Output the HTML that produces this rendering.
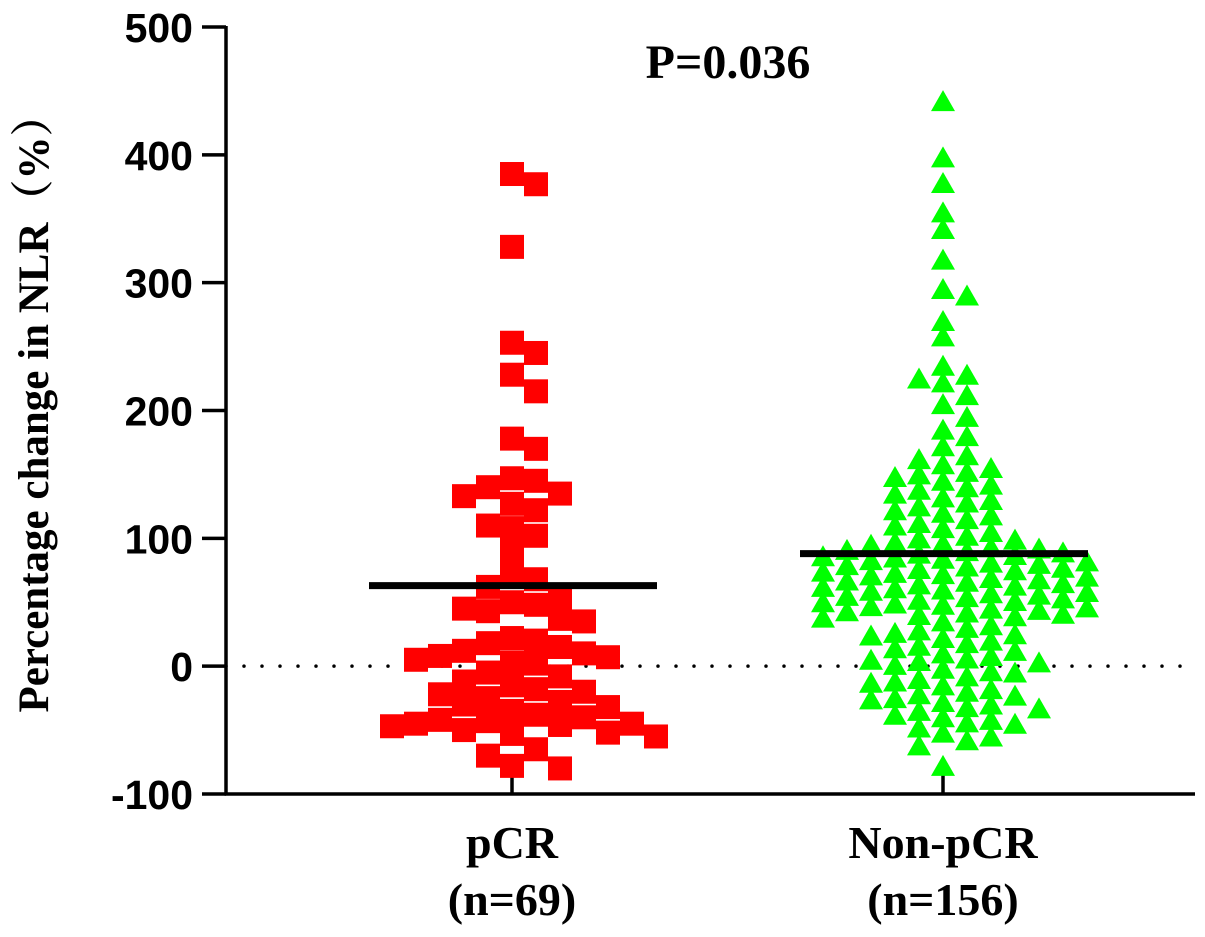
<!DOCTYPE html>
<html><head><meta charset="utf-8">
<style>
html,body{margin:0;padding:0;background:#fff;}
svg{display:block;}
</style></head>
<body>
<svg id="chart" width="1205" height="937" xmlns="http://www.w3.org/2000/svg">
  <g id="axes"></g>
  <g id="marks"></g>
  <text x="728" y="78" text-anchor="middle" font-family="Liberation Serif, serif" font-weight="bold" font-size="48">P=0.036</text>
  <text transform="translate(48,403) rotate(-90)" text-anchor="middle" font-family="Liberation Serif, 'Noto Serif CJK SC', serif" font-weight="bold" font-size="43">Percentage change in NLR（%）</text>
</svg>
<script>
const categories = ["pCR", "Non-pCR"];
const categoryCounts = ["(n=69)", "(n=156)"];
const pcrValues = [385,377,328,253,245,228,215,178,170,147,145,140,135,133,127,122,110,108,102,90,72,68,62,55,50,48,45,43,37,35,22,20,18,15,12,10,8,7,5,3,2,-5,-8,-12,-15,-18,-20,-22,-25,-28,-30,-32,-35,-38,-40,-42,-43,-45,-45,-46,-47,-50,-52,-53,-55,-65,-70,-78,-80];
const nonPcrValues = [442,398,378,355,342,318,295,290,270,258,235,228,225,222,212,205,195,185,180,172,165,162,158,155,152,150,148,145,142,140,138,135,132,130,128,125,122,120,118,115,112,110,108,105,102,100,
99,97,96,95,93,92,91,90,89,88,87,86,85,84,83,82,81,80,79,78,77,76,75,74,73,72,71,70,69,68,67,66,65,64,63,62,61,60,59,58,57,56,55,54,53,52,51,50,49,48,47,46,45,44,43,42,41,40,39,38,35,32,30,28,26,25,24,22,20,18,16,14,12,10,8,6,5,4,3,1,
-2,-4,-5,-8,-10,-12,-13,-15,-18,-20,-22,-23,-25,-26,-28,-30,-32,-33,-35,-38,-40,-42,-44,-45,-48,-52,-55,-58,-62,-78];
const groupMeans = [63, 88];
const yTicks = [-100, 0, 100, 200, 300, 400, 500];

const NS = "http://www.w3.org/2000/svg";
const X0 = 226, X1 = 1195, YTOP = 27, YBOT = 794;
function yScale(v){ return YBOT - (v - (-100)) / 600 * (YBOT - YTOP); }
function xScale(i){ return [512, 943][i]; }
function mk(tag, attrs, parent){
  const e = document.createElementNS(NS, tag);
  for (const k in attrs) e.setAttribute(k, attrs[k]);
  parent.appendChild(e); return e;
}
const axes = document.getElementById('axes');
const marks = document.getElementById('marks');

const zl = mk('line', {x1:X0, x2:X1, y1:yScale(0), y2:yScale(0), stroke:'#000', 'stroke-width':3.5, 'stroke-dasharray':'0 18', 'stroke-linecap':'round'}, axes);



const ya = mk('line', {x1:X0, x2:X0, y1:YTOP-1, y2:YBOT+1.5, stroke:'#000', 'stroke-width':3.5}, axes);


const xa = mk('line', {x1:X0-1.5, x2:X1, y1:YBOT, y2:YBOT, stroke:'#000', 'stroke-width':3.5}, axes);



yTicks.forEach(t => {
  const y = yScale(t);
  const tk = mk('line', {x1:X0-24, x2:X0, y1:y, y2:y, stroke:'#000', 'stroke-width':3.5}, axes);
  
  
  const lb = mk('text', {x:X0-33, y:y+15, 'text-anchor':'end', 'font-family':'Liberation Sans, sans-serif', 'font-weight':'bold', 'font-size':41}, axes);
  lb.textContent = t;
  
  
});

categories.forEach((c, i) => {
  const x = xScale(i);
  const tk = mk('line', {x1:x, x2:x, y1:YBOT-22, y2:YBOT, stroke:'#000', 'stroke-width':3.5}, axes);
  
  
  const lb = mk('text', {x:x, y:858, 'text-anchor':'middle', 'font-family':'Liberation Serif, serif', 'font-weight':'bold', 'font-size':46}, axes);
  lb.textContent = c;
  
  
  const nl = mk('text', {x:x, y:915, 'text-anchor':'middle', 'font-family':'Liberation Serif, serif', 'font-weight':'bold', 'font-size':46}, axes);
  nl.textContent = categoryCounts[i];
  
  
});

function swarm(values, size, fx, fy){
  const sorted = values.map(v => yScale(v)).sort((a,b)=>a-b);
  const placed = [];
  const step = size * 0.5;
  return sorted.map(y => {
    let off = 0;
    for (let k = 0; k < 300; k++){
      const cand = k === 0 ? 0 : (k % 2 ? 1 : -1) * Math.ceil(k/2) * step;
      const hit = placed.some(p => Math.abs(p.x - cand) < size*fx && Math.abs(p.y - y) < size*fy);
      if (!hit){ off = cand; break; }
    }
    const pt = {x: off, y: y};
    placed.push(pt);
    return pt;
  });
}

const S = 24;
swarm(pcrValues, S, 1.0, 0.95).forEach(p => {
  const r = mk('rect', {x: xScale(0)+p.x - S/2, y: p.y - S/2, width:S, height:S, fill:'#ff0000'}, marks);
  
  
});
const T = 24;
swarm(nonPcrValues, T, 0.8, 0.62).forEach(p => {
  const cx = xScale(1)+p.x, cy = p.y;
  const t = mk('polygon', {points: `${cx},${cy-11} ${cx-12},${cy+10} ${cx+12},${cy+10}`, fill:'#00ff00'}, marks);
  
  
});

groupMeans.forEach((m, i) => {
  const x = xScale(i), y = yScale(m);
  const l = mk('line', {x1:x-143, x2:x+145, y1:y, y2:y, stroke:'#000', 'stroke-width':7}, marks);
  
  
});
</script>
</body></html>
